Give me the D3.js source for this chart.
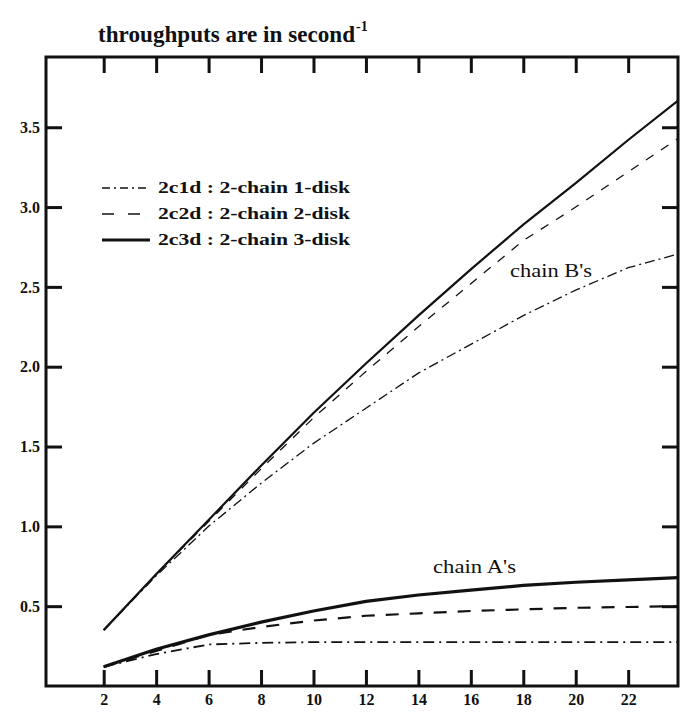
<!DOCTYPE html>
<html>
<head>
<meta charset="utf-8">
<script src="https://cdn.jsdelivr.net/npm/d3@7"></script>
<style>
  body { margin: 0; background: #fff; }
  svg text { font-family: "Liberation Serif", "DejaVu Serif", serif; fill: #111; }
</style>
</head>
<body>
<svg id="chart" width="680" height="716"></svg>
<script>
// data (throughput, 1/s) vs population
const xVals = [2, 4, 6, 8, 10, 12, 14, 16, 18, 20, 22, 24];
const chainB_1disk = [0.35, 0.69, 1.00, 1.27, 1.52, 1.74, 1.96, 2.14, 2.32, 2.48, 2.62, 2.71];
const chainB_2disk = [0.35, 0.70, 1.03, 1.36, 1.68, 1.97, 2.25, 2.52, 2.79, 3.00, 3.22, 3.44];
const chainB_3disk = [0.35, 0.70, 1.04, 1.38, 1.71, 2.02, 2.32, 2.61, 2.89, 3.15, 3.42, 3.68];
const chainA_1disk = [0.12, 0.20, 0.26, 0.27, 0.275, 0.275, 0.275, 0.275, 0.275, 0.275, 0.275, 0.275];
const chainA_2disk = [0.12, 0.22, 0.32, 0.37, 0.41, 0.44, 0.455, 0.47, 0.48, 0.49, 0.495, 0.50];
const chainA_3disk = [0.12, 0.23, 0.32, 0.40, 0.47, 0.53, 0.57, 0.60, 0.63, 0.65, 0.665, 0.68];

const xTickVals = [2, 4, 6, 8, 10, 12, 14, 16, 18, 20, 22];
const yTickVals = [0.5, 1.0, 1.5, 2.0, 2.5, 3.0, 3.5];
const legendLabels = ["2c1d : 2-chain 1-disk", "2c2d : 2-chain 2-disk", "2c3d : 2-chain 3-disk"];

// svg constants
const svg = d3.select('svg#chart');
const L = 46, R = 678, T = 57, B = 686;
const TICK = 16;

const xScale = d3.scaleLinear().domain([-0.2, 23.9]).range([L, R]);
const yScale = d3.scaleLinear().domain([0, 3.94]).range([B, T]);

svg.append("defs").append("clipPath").attr("id", "plot")
   .append("rect").attr("x", L).attr("y", T).attr("width", R - L).attr("height", B - T);

// title
svg.append("text")
   .attr("x", 98).attr("y", 42)
   .attr("textLength", 257).attr("lengthAdjust", "spacingAndGlyphs")
   .style("font-size", "23px").style("font-weight", "bold")
   .text("throughputs are in second");
svg.append("text")
   .attr("x", 356).attr("y", 31)
   .style("font-size", "14px").style("font-weight", "bold")
   .text("-1");

// axes: ticks pointing inwards
const yAxisL = d3.axisLeft(yScale).tickValues(yTickVals).tickFormat(d3.format(".1f"))
                 .tickSize(-TICK).tickSizeOuter(0).tickPadding(6);
const yAxisR = d3.axisRight(yScale).tickValues(yTickVals).tickFormat("")
                 .tickSize(-TICK).tickSizeOuter(0);
const xAxisB = d3.axisBottom(xScale).tickValues(xTickVals)
                 .tickSize(-TICK).tickSizeOuter(0).tickPadding(8);
const xAxisT = d3.axisTop(xScale).tickValues(xTickVals).tickFormat("")
                 .tickSize(-TICK).tickSizeOuter(0);

const axes = [
  [yAxisL, `translate(${L},0)`],
  [yAxisR, `translate(${R},0)`],
  [xAxisB, `translate(0,${B})`],
  [xAxisT, `translate(0,${T})`]
];
axes.forEach(([ax, tr]) => {
  const g = svg.append("g").attr("transform", tr).call(ax);
  g.select(".domain").remove();
  g.selectAll(".tick line").attr("stroke", "#111").attr("stroke-width", 3);
  g.selectAll(".tick text")
   .style("font-family", '"Liberation Serif", serif')
   .style("font-size", "16px").style("font-weight", "bold").attr("fill", "#111");
});

// frame
svg.append("rect")
   .attr("x", L).attr("y", T).attr("width", R - L).attr("height", B - T)
   .attr("fill", "none").attr("stroke", "#111").attr("stroke-width", 3);

// curves
const line = d3.line().x(d => xScale(d[0])).y(d => yScale(d[1]));
const plotG = svg.append("g").attr("clip-path", "url(#plot)");

const seriesB = [chainB_1disk, chainB_2disk, chainB_3disk];
const seriesA = [chainA_1disk, chainA_2disk, chainA_3disk];
const widthsB = [1.3, 1.3, 2.2];
const widthsA = [1.8, 2.2, 3.2];
const dashB = ["10,4,2,4", "9,9", null];
const dashA = ["11,5,2,5", "13,11", null];

seriesB.forEach((s, i) => {
  plotG.append("path")
       .datum(xVals.map((x, j) => [x, s[j]]))
       .attr("d", line).attr("fill", "none").attr("stroke", "#111")
       .attr("stroke-width", widthsB[i])
       .attr("stroke-dasharray", dashB[i]);
});
seriesA.forEach((s, i) => {
  plotG.append("path")
       .datum(xVals.map((x, j) => [x, s[j]]))
       .attr("d", line).attr("fill", "none").attr("stroke", "#111")
       .attr("stroke-width", widthsA[i])
       .attr("stroke-dasharray", dashA[i]);
});

// curve labels
svg.append("text").attr("x", 510).attr("y", 277)
   .attr("textLength", 82).attr("lengthAdjust", "spacingAndGlyphs")
   .style("font-size", "18px").text("chain B's");
svg.append("text").attr("x", 433).attr("y", 573)
   .attr("textLength", 83).attr("lengthAdjust", "spacingAndGlyphs")
   .style("font-size", "18px").text("chain A's");

// legend
const legend = svg.append("g").attr("transform", "translate(102,188)");
legendLabels.forEach((lab, i) => {
  const row = legend.append("g").attr("transform", `translate(0,${i * 26})`);
  row.append("line").attr("x1", 0).attr("x2", 48).attr("y1", 0).attr("y2", 0)
     .attr("stroke", "#111").attr("stroke-width", [1.4, 1.6, 2.8][i])
     .attr("stroke-dasharray", ["8,4,2,4", "12,14", null][i]);
  row.append("text").attr("x", 56).attr("y", 5)
     .attr("textLength", 192).attr("lengthAdjust", "spacingAndGlyphs")
     .style("font-size", "16px").style("font-weight", "bold").text(lab);
});
</script>
</body>
</html>
